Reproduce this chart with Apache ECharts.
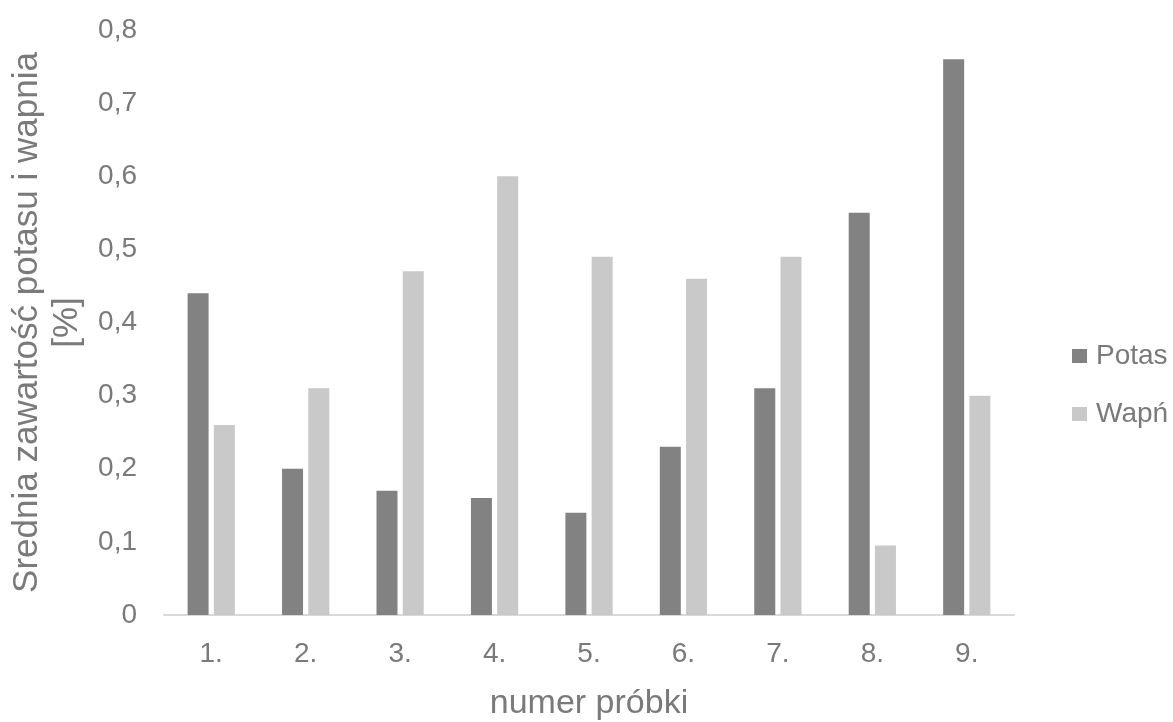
<!DOCTYPE html>
<html>
<head>
<meta charset="utf-8">
<script src="https://cdn.jsdelivr.net/npm/echarts@6/dist/echarts.min.js"></script>
<style>
html,body{margin:0;padding:0;background:#fff;}
#chart{width:1173px;height:722px;}
</style>
</head>
<body>
<div id="chart"></div>
<script>
var categories = ['1.', '2.', '3.', '4.', '5.', '6.', '7.', '8.', '9.'];
var potas = [0.44, 0.20, 0.17, 0.16, 0.14, 0.23, 0.31, 0.55, 0.76];
var wapn = [0.26, 0.31, 0.47, 0.60, 0.49, 0.46, 0.49, 0.095, 0.30];
var seriesNames = ['Potas', 'Wapń'];
var yTickLabels = ['0', '0,1', '0,2', '0,3', '0,4', '0,5', '0,6', '0,7', '0,8'];
var xAxisTitle = 'numer próbki';
var yAxisTitle = 'Srednia zawartość potasu i wapnia\n[%]';

var textColor = '#7a7a7a';
var font = 'Liberation Sans, Arial, sans-serif';

var chart = echarts.init(document.getElementById('chart'));
chart.setOption({
  backgroundColor: '#ffffff',
  animation: false,
  textStyle: { fontFamily: font },
  grid: { left: 164, right: 159, top: 30, bottom: 107, containLabel: false, outerBoundsMode: 'none' },
  legend: {
    orient: 'vertical',
    left: 1067,
    top: 337,
    itemWidth: 15,
    itemHeight: 14,
    itemGap: 30,
    icon: 'rect',
    data: seriesNames,
    textStyle: { color: textColor, fontSize: 28, lineHeight: 28, fontFamily: font, padding: [0, 0, 0, 4] }
  },
  xAxis: {
    type: 'category',
    data: categories,
    axisLine: { lineStyle: { color: '#d9d9d9', width: 2 } },
    axisTick: { show: false },
    axisLabel: { color: textColor, fontSize: 28, margin: 25, fontFamily: font },
    name: xAxisTitle,
    nameLocation: 'middle',
    nameGap: 72,
    nameTextStyle: { color: textColor, fontSize: 34, fontFamily: font }
  },
  yAxis: {
    type: 'value',
    min: 0,
    max: 0.8,
    interval: 0.1,
    splitLine: { show: false },
    axisLine: { show: false },
    axisTick: { show: false },
    axisLabel: {
      color: textColor, fontSize: 28, margin: 27, fontFamily: font,
      formatter: function (v) { return yTickLabels[Math.round(v * 10)]; }
    },
    name: yAxisTitle,
    nameLocation: 'middle',
    nameGap: 77,
    nameRotate: 90,
    nameTextStyle: { color: textColor, fontSize: 35, lineHeight: 40, fontFamily: font, align: 'center' }
  },
  series: [
    {
      name: seriesNames[0], type: 'bar', data: potas,
      barWidth: 21, barGap: '25%',
      itemStyle: { color: '#828282' }
    },
    {
      name: seriesNames[1], type: 'bar', data: wapn,
      barWidth: 21, barGap: '25%',
      itemStyle: { color: '#c9c9c9' }
    }
  ]
});
</script>
</body>
</html>
